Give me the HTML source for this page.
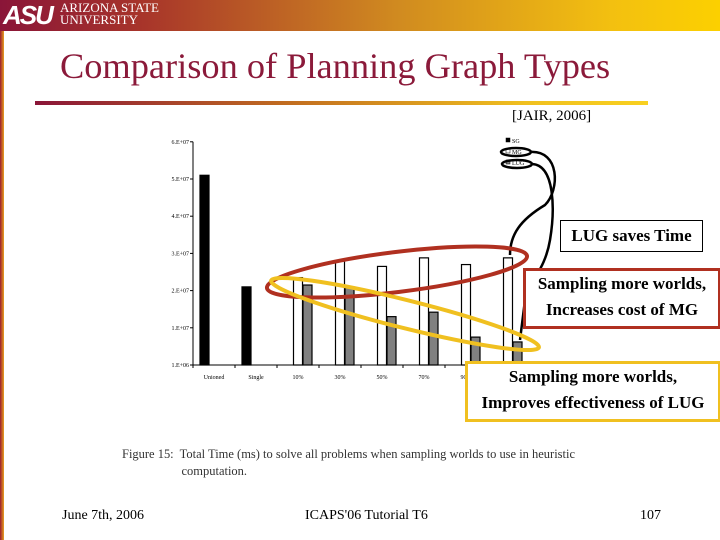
<!DOCTYPE html>
<html><head><meta charset="utf-8"><style>
body{margin:0}
#slide{position:relative;width:720px;height:540px;background:#fff;overflow:hidden;font-family:"Liberation Serif",serif}
.t{position:absolute;white-space:nowrap}
</style></head><body>
<div id="slide">
<div style="position:absolute;left:0;top:0;width:720px;height:31px;background:linear-gradient(90deg,#8a1538 0%,#a8352a 20%,#d08a20 55%,#f3c010 85%,#fcd000 100%)"></div>
<div style="position:absolute;left:0;top:31px;width:4px;height:509px;background:linear-gradient(90deg,#9a1c30,#e8a020)"></div>
<div class="t" style="left:3px;top:0;font:bold italic 26px 'Liberation Sans',sans-serif;color:#fff;letter-spacing:-2px">ASU</div>
<div class="t" style="left:60px;top:2px;font:13px 'Liberation Serif',serif;color:#fff;line-height:12px">ARIZONA STATE<br>UNIVERSITY</div>
<div class="t" style="left:60px;top:45px;font-size:36px;color:#8b1a3a;transform:scaleX(1.01);transform-origin:left">Comparison of Planning Graph Types</div>
<div style="position:absolute;left:35px;top:101px;width:613px;height:4px;background:linear-gradient(90deg,#8a1538,#c06a20 40%,#f0c020 80%,#f8d020)"></div>
<div class="t" style="left:512px;top:108px;font-size:15px">[JAIR, 2006]</div>
<svg id="chart" width="720" height="540" style="position:absolute;left:0;top:0"></svg>
<div class="t" style="left:122px;top:445px;font-size:13px;color:#333;line-height:17px;transform:scaleX(0.96);transform-origin:left">Figure 15:&nbsp; Total Time (ms) to solve all problems when sampling worlds to use in heuristic<br><span style="padding-left:62px">computation.</span></div>
<div class="t" style="left:62px;top:508px;font-size:14px">June 7th, 2006</div>
<div class="t" style="left:305px;top:508px;font-size:14px">ICAPS'06 Tutorial T6</div>
<div class="t" style="left:640px;top:508px;font-size:14px">107</div>
<div class="t" style="left:560px;top:220px;width:141px;height:30px;border:1px solid #000;background:#fff;font:bold 17px 'Liberation Serif',serif;text-align:center;line-height:30px">LUG saves Time</div>
<div class="t" style="left:523px;top:268px;width:192px;height:55px;border:3px solid #b03020;background:#fff;font:bold 17px 'Liberation Serif',serif;text-align:center;line-height:26px">Sampling more worlds,<br>Increases cost of MG</div>
<div class="t" style="left:465px;top:361px;width:250px;height:55px;border:3px solid #f0c020;background:#fff;font:bold 17px 'Liberation Serif',serif;text-align:center;line-height:26px">Sampling more worlds,<br>Improves effectiveness of LUG</div>
</div>
<script>
const categories=["Unioned","Single","10%","30%","50%","70%","90%","99%"];
const sgValues=[5.1,2.1,null,null,null,null,null,null];
const mgValues=[null,null,2.35,2.8,2.65,2.88,2.7,2.88];
const lugValues=[null,null,2.15,2.1,1.3,1.42,0.75,0.62];
const yTicks=[0,1,2,3,4,5,6];
const yTickLabels=["1.E+06","1.E+07","2.E+07","3.E+07","4.E+07","5.E+07","6.E+07"];
const NS="http://www.w3.org/2000/svg";
const svg=document.getElementById('chart');
const X0=193,STEP=42,Y0=365,YU=37.2;
function xCat(i){return X0+i*STEP;}
function yVal(v){return Y0-v*YU;}
function mk(t,a,p){const e=document.createElementNS(NS,t);for(const k in a)e.setAttribute(k,a[k]);(p||svg).appendChild(e);return e;}
let ax=mk('line',{x1:X0,y1:yVal(6),x2:X0,y2:Y0,stroke:'#000','stroke-width':1});


let bx=mk('line',{x1:X0,y1:Y0,x2:xCat(categories.length),y2:Y0,stroke:'#000','stroke-width':1});


yTicks.forEach((v,i)=>{
  mk('line',{x1:X0-3,y1:yVal(v),x2:X0,y2:yVal(v),stroke:'#000'});
  const t=mk('text',{x:X0-4,y:yVal(v)+2,'font-size':6,'text-anchor':'end','font-family':'Liberation Serif'});
  t.textContent=yTickLabels[i];
  
  
});
categories.forEach((c,i)=>{
  mk('line',{x1:xCat(i),y1:Y0,x2:xCat(i),y2:Y0+3,stroke:'#000'});
  const t=mk('text',{x:xCat(i)+21,y:Y0+14,'font-size':6,'text-anchor':'middle','font-family':'Liberation Serif'});
  t.textContent=c;
  
  
  const series=[[sgValues,7,'#000','sg'],[mgValues,16.5,'#fff','mg'],[lugValues,26,'#808080','lug']];
  series.forEach(([arr,off,fill,n])=>{
    const v=arr[i]; if(v==null) return;
    const r=mk('rect',{x:xCat(i)+off,y:yVal(v),width:9,height:Y0-yVal(v),fill:fill,stroke:'#000','stroke-width':1.2});
    
    
  });
});
const lg=[["SG","#000"],["MG","#fff"],["LUG","#808080"]];
lg.forEach((l,i)=>{
  mk('rect',{x:506,y:138+i*11,width:4,height:4,fill:l[1],stroke:'#000','stroke-width':0.5});
  const t=mk('text',{x:512,y:143+i*11,'font-size':6,'font-family':'Liberation Serif'});
  t.textContent=l[0];
  
  
});
let e1=mk('ellipse',{cx:516,cy:152,rx:15,ry:4,fill:'none',stroke:'#000','stroke-width':2.5});

let e2=mk('ellipse',{cx:517,cy:164,rx:15,ry:4,fill:'none',stroke:'#000','stroke-width':2.5});

let c1=mk('path',{d:'M530,152 C560,150 560,190 545,205 C520,220 510,235 510,255',fill:'none',stroke:'#000','stroke-width':2.5});

let c2=mk('path',{d:'M532,164 C555,165 555,210 550,240 C545,270 530,280 525,300 L520,340',fill:'none',stroke:'#000','stroke-width':2.5});

let re=mk('ellipse',{cx:397,cy:272,rx:131,ry:20,fill:'none',stroke:'#b03020','stroke-width':4,transform:'rotate(-7 397 272)'});

let ye=mk('ellipse',{cx:405,cy:314,rx:138,ry:14,fill:'none',stroke:'#f0c020','stroke-width':4,transform:'rotate(14 405 314)'});

</script>
</body></html>
